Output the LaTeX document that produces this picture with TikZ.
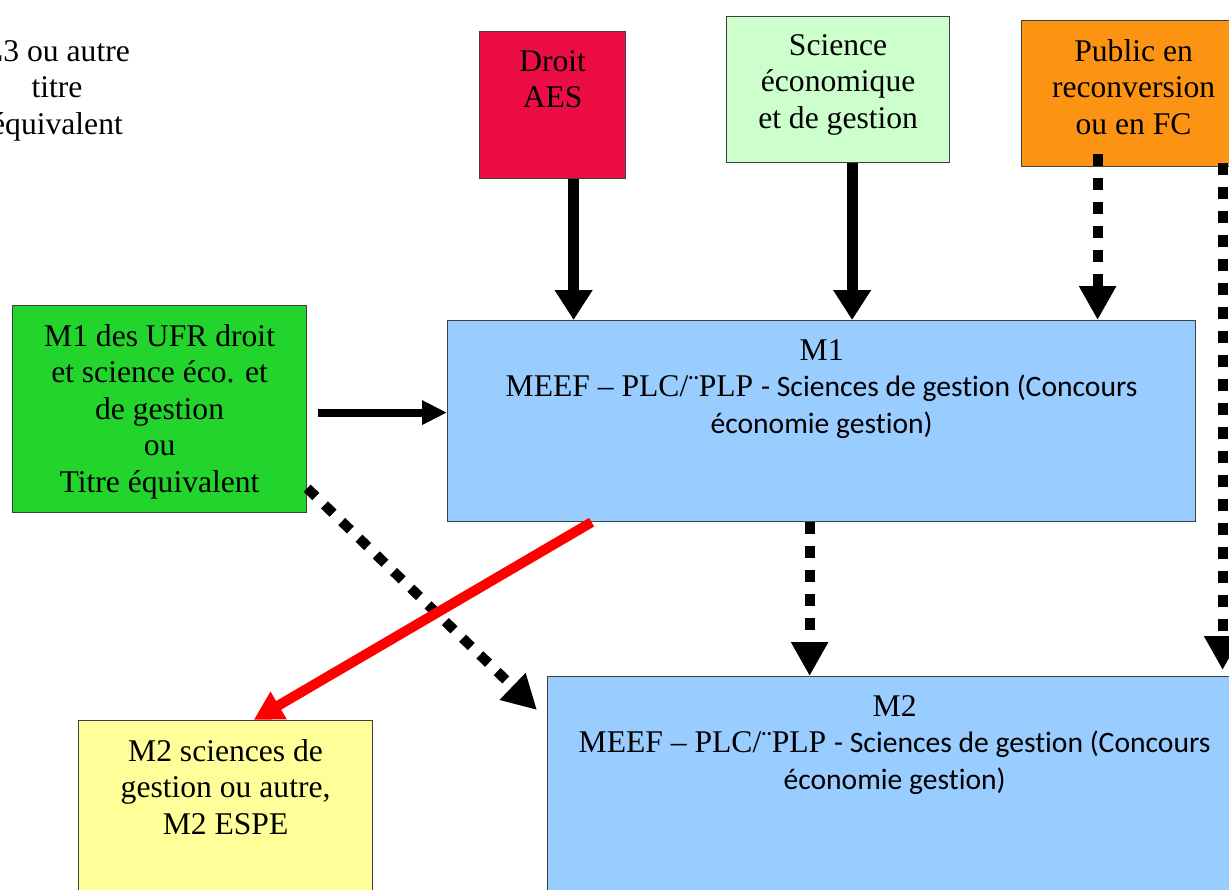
\documentclass[tikz,border=0pt]{standalone}
\usepackage{fontspec}
\setmainfont{Liberation Serif}
\newfontfamily\calibri[Ligatures=NoCommon]{Carlito}
\usetikzlibrary{arrows.meta}

\definecolor{rougedroit}{RGB}{236,13,69}
\definecolor{vertclair}{RGB}{204,255,204}
\definecolor{orangefc}{RGB}{253,147,18}
\definecolor{vertufr}{RGB}{34,212,44}
\definecolor{bleum}{RGB}{153,204,255}
\definecolor{jaunem}{RGB}{255,255,153}

\newcommand{\cali}[1]{{\calibri\fontsize{14.8}{18.25}\selectfont #1}}

\begin{document}
\begin{tikzpicture}[x=0.5pt,y=-0.5pt,
    boite/.style={draw=black!75, line width=0.6pt, anchor=north west, inner sep=0pt},
    texte/.style={anchor=north, align=center, inner sep=0pt, font=\fontsize{15.8}{18.25}\selectfont},
    plein/.style={line width=5.5pt, -{Triangle[length=15pt,width=18pt]}},
    pointille/.style={line width=5pt, dash pattern=on 6pt off 6pt, -{Triangle[length=17pt,width=17.5pt]}},
    rouge/.style={red, line width=5pt, -{Triangle[length=14.5pt,width=15pt]}},
    fleche/.style={line width=4pt, -{Triangle[length=12.5pt,width=11.5pt]}}]
    \useasboundingbox (0,0) rectangle (1229,889);
    \clip (0,0) rectangle (1229,889);
    % boites
    \node [boite, fill=rougedroit, minimum width=73pt, minimum height=73.5pt] (droit) at (479,31) {};
    \node [boite, fill=vertclair, minimum width=111.5pt, minimum height=73pt] (science) at (726,16) {};
    \node [boite, fill=orangefc, minimum width=112pt, minimum height=73pt] (public) at (1021,20) {};
    \node [boite, fill=vertufr, minimum width=147pt, minimum height=103.5pt] (ufr) at (12,305) {};
    \node [boite, fill=bleum, minimum width=374pt, minimum height=100.5pt] (mun) at (447,320) {};
    \node [boite, fill=bleum, minimum width=347pt, minimum height=120pt] (mdeux) at (547,676) {};
    \node [boite, fill=jaunem, minimum width=147pt, minimum height=100pt] (autre) at (78,720) {};
    % textes
    \node [texte] (ltrois) at (57,40) {L3 ou autre\\titre\\équivalent};
    \node [texte, yshift=-9.5pt] (droit-t) at (droit.north) {Droit\\AES};
    \node [texte, yshift=-9pt] (science-t) at (science.north) {Science\\économique\\et de gestion};
    \node [texte, yshift=-9.5pt] (public-t) at (public.north) {Public en\\reconversion\\ou en FC};
    \node [texte, yshift=-9.5pt] (ufr-t) at (ufr.north) {M1 des UFR droit\\et science éco. et\\de gestion\\ou\\Titre équivalent};
    \node [texte, yshift=-9.5pt] (mun-t) at (mun.north) {M1\\MEEF – PLC/¨PLP \cali{- Sciences de gestion (Concours}\\\cali{économie gestion)}};
    \node [texte, yshift=-9.5pt] (mdeux-t) at (mdeux.north) {M2\\MEEF – PLC/¨PLP \cali{- Sciences de gestion (Concours}\\\cali{économie gestion)}};
    \node [texte, yshift=-9.5pt] (autre-t) at (autre.north) {M2 sciences de\\gestion ou autre,\\M2 ESPE};
    % fleches
    \draw [plein] ([xshift=10.5pt]droit.south) -- ([xshift=10.5pt]droit.south |- mun.north);
    \draw [plein] ([xshift=7pt]science.south) -- ([xshift=7pt]science.south |- mun.north);
    \draw [pointille] ([xshift=-18pt,yshift=6.5pt]public.south) -- ([xshift=-18pt]public.south |- mun.north);
    \draw [pointille] ([xshift=44.5pt,yshift=2pt]public.south) -- ([xshift=44.5pt,yshift=3pt]public.south |- mdeux.north);
    \draw [fleche, shorten <=5.5pt] ([yshift=-1.75pt]ufr.east) -- ([yshift=-1.75pt]ufr.east -| mun.west);
    \draw [pointille] ([yshift=12.5pt]ufr.south east) -- ([xshift=-5pt,yshift=-17pt]mdeux.north west);
    \draw [pointille] ([xshift=-6pt]mun.south) -- ([xshift=-6pt]mun.south |- mdeux.north);
    \draw [rouge] ([xshift=-115pt]mun.south) -- ([xshift=14pt]autre.north);
\end{tikzpicture}
\end{document}
